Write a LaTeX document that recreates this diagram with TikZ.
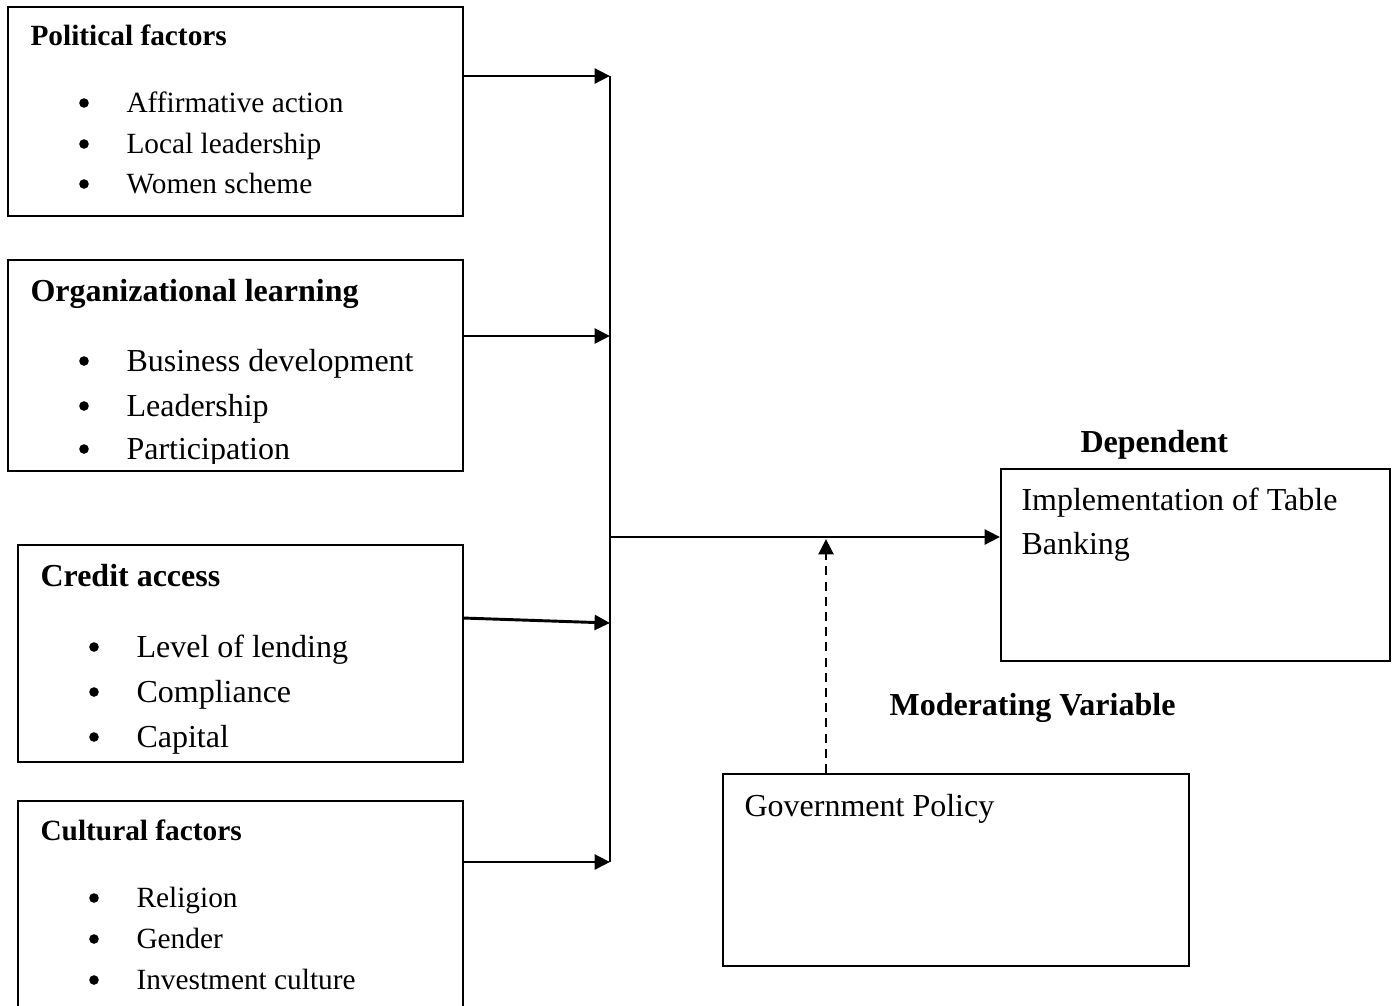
\documentclass[tikz,border=0pt]{standalone}
\usepackage{fontspec}
\setmainfont{Liberation Serif}
\usetikzlibrary{arrows.meta}
\usetikzlibrary{fit}

\tikzset{
  box/.style={draw, line width=0.75pt, inner sep=0pt},
  arr/.style={line width=1.1pt, -{Triangle[length=5.8pt, width=5.6pt]}},
  darr/.style={arr, dash pattern=on 3.4pt off 2.3pt},
  stitle/.style={font=\fontsize{11}{13}\selectfont\bfseries, anchor=base west, inner sep=0pt},
  sitem/.style={font=\fontsize{11}{13}\selectfont, anchor=base west, inner sep=0pt},
  btitle/.style={font=\fontsize{12}{14}\selectfont\bfseries, anchor=base west, inner sep=0pt},
  bitem/.style={font=\fontsize{12}{14}\selectfont, anchor=base west, inner sep=0pt},
  dot/.style={circle, fill, inner sep=0pt, minimum size=3.6pt},
}

\begin{document}
\begin{tikzpicture}[x=0.375pt, y=-0.375pt]

\clip (0,0) rectangle (1395,1005);

% independent variable boxes
\node[box, fit={(8,7) (463,216)}] (pol) {};
\node[box, fit={(8,260) (463,471)}] (org) {};
\node[box, fit={(18,545) (463,762)}] (cred) {};
\node[box, fit={(18,801) (463,1040)}] (cult) {};

% dependent and moderating boxes
\node[box, fit={(1001,469) (1390,661)}] (dep) {};
\node[box, fit={(723,774) (1189,966)}] (gov) {};

% political factors
\node[stitle] (poltitle) at (30,45) {Political factors};
\foreach \y/\t [count=\i] in {112/Affirmative action, 153/Local leadership, 193/Women scheme} {
  \node[dot] (poldot\i) at (84,\y-9) {};
  \node[sitem] (pol\i) at (126,\y) {\t};
}

% organizational learning (last line cut short inside the frame)
\begin{scope}
\clip (8,260) rectangle (463,463);
\node[btitle] (orgtitle) at (30,301) {Organizational learning};
\foreach \y/\t [count=\i] in {371/Business development, 416/Leadership, 459/Participation} {
  \node[dot] (orgdot\i) at (84,\y-10) {};
  \node[bitem] (org\i) at (126,\y) {\t};
}
\end{scope}

% credit access
\node[btitle] (credtitle) at (40,586) {Credit access};
\foreach \y/\t [count=\i] in {657/Level of lending, 702/Compliance, 747/Capital} {
  \node[dot] (creddot\i) at (94,\y-10) {};
  \node[bitem] (cred\i) at (136,\y) {\t};
}

% cultural factors
\node[stitle] (culttitle) at (40,840) {Cultural factors};
\foreach \y/\t [count=\i] in {907/Religion, 948/Gender, 989/Investment culture} {
  \node[dot] (cultdot\i) at (94,\y-9) {};
  \node[sitem] (cult\i) at (136,\y) {\t};
}

% right hand labels
\node[btitle] (deplabel) at (1080,452) {Dependent};
\node[bitem] (dep1) at (1021,510) {Implementation of Table};
\node[bitem] (dep2) at (1021,554) {Banking};
\node[btitle] (modlabel) at (889,715) {Moderating Variable};
\node[bitem] (gov1) at (744,816) {Government Policy};

% collecting line
\coordinate (b1) at (610,76);
\coordinate (b2) at (610,336);
\coordinate (b3) at (610,623);
\coordinate (b4) at (610,862);
\coordinate (bm) at (610,537);
\coordinate (c3) at (463,618);
\coordinate (mm) at (826,539);

\draw[line width=1.1pt] (b1) -- (b4);
\draw[arr] (pol.east |- b1) -- (b1);
\draw[arr] (org.east |- b2) -- (b2);
\draw[arr] (c3) -- (b3);
\draw[arr] (cult.east |- b4) -- (b4);

\draw[arr] (bm) -- (dep.west |- bm);
\draw[darr] (gov.north west -| mm) -- (mm);

\end{tikzpicture}
\end{document}
